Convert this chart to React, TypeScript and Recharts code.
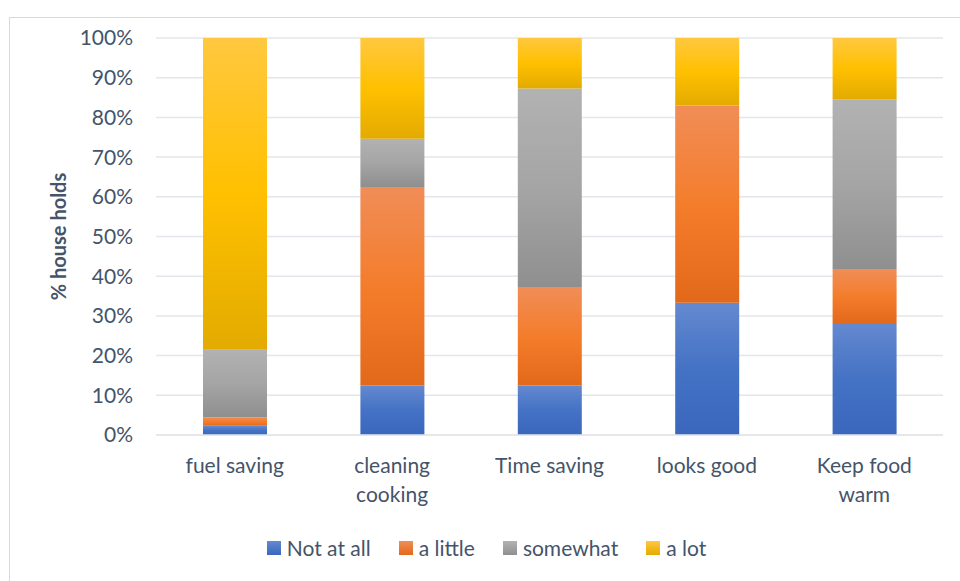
import { Bar, BarChart, CartesianGrid, Legend, XAxis, YAxis } from 'recharts';

const categories = ['fuel saving', 'cleaning cooking', 'Time saving', 'looks good', 'Keep food warm'];
const notAtAll = [2.3, 12.5, 12.5, 33.3, 28.2];
const aLittle = [2.2, 50, 24.8, 49.7, 13.6];
const somewhat = [17, 12.1, 50, 0, 42.8];
const aLot = [78.5, 25.4, 12.7, 17, 15.4];
const yTicks = [0, 10, 20, 30, 40, 50, 60, 70, 80, 90, 100];

const TEXT = '#44546a';
const GRID = '#e3e6ea';
const FONT = 'Lato, "Open Sans", sans-serif';

// Excel-style vertical gradients: light on top, darker at bottom
const seriesDefs = [
  { key: 'notAtAll', name: 'Not at all', stops: ['#6489d0', '#4472c4', '#3a67bd'] },
  { key: 'aLittle', name: 'a little', stops: ['#f08d57', '#f47d2c', '#e3691a'] },
  { key: 'somewhat', name: 'somewhat', stops: ['#b2b2b2', '#a5a5a5', '#8f8f8f'] },
  { key: 'aLot', name: 'a lot', stops: ['#ffc83f', '#ffc000', '#e3ab00'] },
];

const data = categories.map((c, i) => ({
  name: c,
  notAtAll: notAtAll[i],
  aLittle: aLittle[i],
  somewhat: somewhat[i],
  aLot: aLot[i],
}));

// Excel wraps the longer labels onto two lines
const wrapped: Record<string, string[]> = {
  'cleaning cooking': ['cleaning', 'cooking'],
  'Keep food warm': ['Keep food', 'warm'],
};

function CategoryTick({ x, y, payload }: any) {
  const lines = wrapped[payload.value] ?? [payload.value];
  return (
    <text x={x} y={y} textAnchor="middle" fill={TEXT} fontSize={21} fontFamily={FONT}>
      {lines.map((l, i) => (
        <tspan key={i} x={x} dy={i === 0 ? 30 : 29}>
          {l}
        </tspan>
      ))}
    </text>
  );
}

function LegendContent() {
  return (
    <div
      style={{
        display: 'flex',
        justifyContent: 'center',
        gap: 28,
        paddingLeft: 30,
        fontFamily: FONT,
        fontSize: 21,
        color: TEXT,
      }}
    >
      {seriesDefs.map((s) => (
        <div key={s.key} style={{ display: 'flex', alignItems: 'center', gap: 6 }}>
          <span
            style={{
              display: 'inline-block',
              width: 14,
              height: 14,
              background: `linear-gradient(${s.stops[0]}, ${s.stops[2]})`,
            }}
          />
          <span>{s.name}</span>
        </div>
      ))}
    </div>
  );
}

export default function App() {
  return (
    <div style={{ position: 'fixed', left: 0, top: 0, width: 960, height: 581, background: '#fff' }}>
      <div
        style={{
          position: 'absolute',
          left: 9,
          top: 17,
          width: 960,
          height: 600,
          border: '1px solid #d9d9d9',
          boxSizing: 'border-box',
        }}
      />
      <div style={{ position: 'absolute', left: 0, top: 0 }}>
        <BarChart
          width={960}
          height={581}
          data={data}
          barSize={64}
          margin={{ top: 38, right: 17, bottom: 0, left: 0 }}
        >
          <defs>
            {seriesDefs.map((s) => (
              <linearGradient key={s.key} id={`g-${s.key}`} x1="0" y1="0" x2="0" y2="1">
                <stop offset="0%" stopColor={s.stops[0]} />
                <stop offset="50%" stopColor={s.stops[1]} />
                <stop offset="100%" stopColor={s.stops[2]} />
              </linearGradient>
            ))}
          </defs>
          <CartesianGrid vertical={false} stroke={GRID} strokeWidth={1.5} />
          <XAxis
            dataKey="name"
            axisLine={{ stroke: GRID, strokeWidth: 1.5 }}
            tickLine={false}
            tick={<CategoryTick />}
            height={100}
            interval={0}
          />
          <YAxis
            width={156}
            domain={[0, 100]}
            ticks={yTicks}
            tickFormatter={(v: number) => `${v}%`}
            axisLine={false}
            tickLine={false}
            tickMargin={17}
            tick={{ fill: TEXT, fontSize: 21, fontFamily: FONT }}
            label={{
              value: '% house holds',
              angle: -90,
              position: 'insideLeft',
              offset: 59,
              style: { fill: TEXT, fontSize: 20, fontWeight: 700, fontFamily: FONT, textAnchor: 'middle' },
            }}
          />
          {seriesDefs.map((s) => (
            <Bar
              key={s.key}
              dataKey={s.key}
              name={s.name}
              stackId="a"
              fill={`url(#g-${s.key})`}
              isAnimationActive={false}
            />
          ))}
          <Legend verticalAlign="bottom" height={46} content={<LegendContent />} />
        </BarChart>
      </div>
    </div>
  );
}
